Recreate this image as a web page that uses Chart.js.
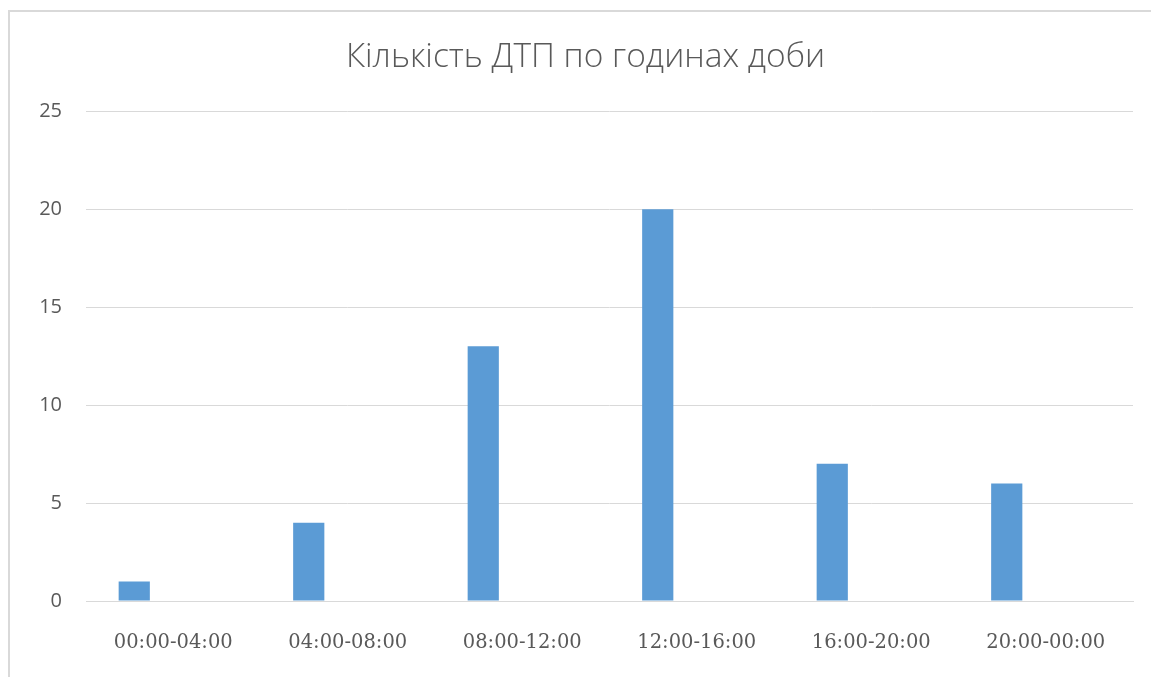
<!DOCTYPE html>
<html>
<head>
<meta charset="utf-8">
<script src="https://cdn.jsdelivr.net/npm/chart.js@4"></script>
<style>
    body { margin: 0; background: #fff; }
    #frame {
        position: absolute;
        left: 8px;
        top: 10px;
        width: 1143px;
        height: 667px;
        border-left: 2px solid #d9d9d9;
        border-top: 2px solid #d9d9d9;
    }
</style>
</head>
<body>
<div id="frame">
    <canvas id="hourlyChart" width="1141" height="665"></canvas>
</div>
<script>
const hourLabels = ['00:00-04:00', '04:00-08:00', '08:00-12:00', '12:00-16:00', '16:00-20:00', '20:00-00:00']
const accidents = [1, 4, 13, 20, 7, 6]
// друга серія в таблиці порожня, тому стовпчики зсунуті ліворуч
const emptySeries = [null, null, null, null, null, null]
const yTicks = [0, 5, 10, 15, 20, 25]

const textColor = '#595959'
const gridColor = '#d9d9d9'

const ctx = document.getElementById('hourlyChart').getContext('2d');

new Chart(ctx, {
    type: 'bar',
    data: {
        labels: hourLabels,
        datasets: [{
            label: 'Кількість ДТП',
            data: accidents,
            backgroundColor: '#5b9bd5',
            borderWidth: 0,
            categoryPercentage: 0.894,
            barPercentage: 0.4,
        }, {
            label: ' ',
            data: emptySeries,
            backgroundColor: '#ed7d31',
            categoryPercentage: 0.894,
            barPercentage: 0.4,
        }]
    },
    options: {
        responsive: false,
        animation: false,
        layout: {
            padding: { top: 0, right: 18, bottom: 0, left: 28 }
        },
        scales: {
            x: {
                grid: { display: false, drawTicks: false },
                border: { display: true, color: gridColor, width: 1 },
                ticks: {
                    color: textColor,
                    padding: 30,
                    maxRotation: 0,
                    font: { family: 'DejaVu Serif', size: 19.5 }
                },
                afterFit: (scale) => { scale.height = 76 }
            },
            y: {
                min: yTicks[0],
                max: yTicks[yTicks.length - 1],
                afterBuildTicks: (scale) => {
                    scale.ticks = yTicks.map(v => ({ value: v }))
                },
                grid: { color: gridColor, lineWidth: 1, drawTicks: false },
                border: { display: false },
                ticks: {
                    color: textColor,
                    padding: 24,
                    font: { family: 'Open Sans', size: 20 }
                },
                afterFit: (scale) => { scale.width = 48 }
            }
        },
        plugins: {
            legend: { display: false },
            tooltip: { enabled: false },
            title: {
                display: true,
                text: 'Кількість ДТП по годинах доби',
                color: textColor,
                padding: { top: 25, bottom: 34 },
                font: { family: 'Open Sans', weight: 300, size: 33.5 }
            }
        }
    }
});
</script>
</body>
</html>
